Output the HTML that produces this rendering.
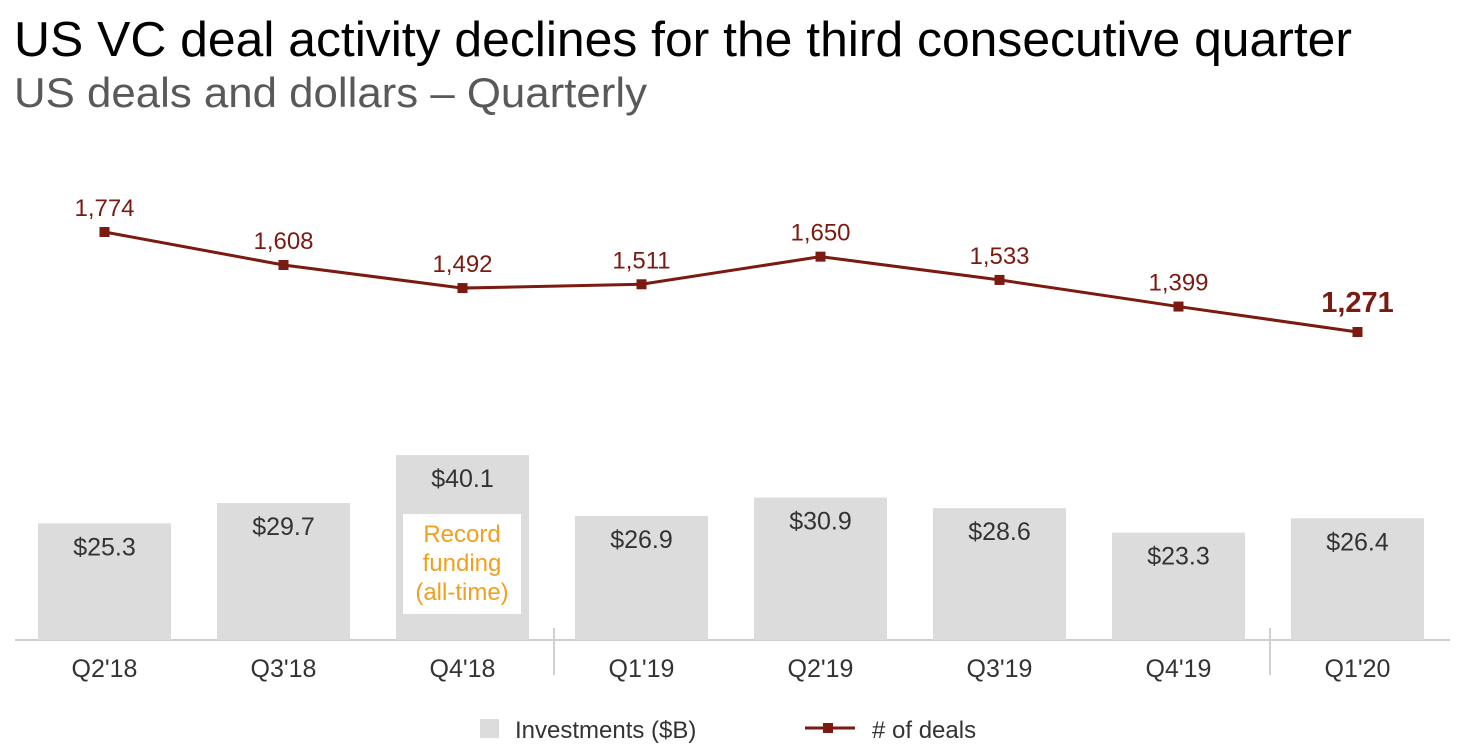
<!DOCTYPE html>
<html><head><meta charset="utf-8"><style>
body{margin:0;background:#fff;font-family:"Liberation Sans",sans-serif;}
#wrap{position:relative;width:1463px;height:755px;overflow:hidden;}
</style></head><body><div id="wrap">
<svg id="chart" width="1463" height="755" style="position:absolute;left:0;top:0">
<text x="14" y="56" font-size="49" fill="#000" textLength="1338" lengthAdjust="spacingAndGlyphs">US VC deal activity declines for the third consecutive quarter</text>
<text x="14" y="107" font-size="42" fill="#595959" textLength="633" lengthAdjust="spacingAndGlyphs">US deals and dollars – Quarterly</text>
<line x1="15" y1="640" x2="1450" y2="640" stroke="#bfbfbf" stroke-width="1.5"/>
<line x1="554" y1="628" x2="554" y2="675" stroke="#d0d0d0" stroke-width="2"/>
<line x1="1270" y1="628" x2="1270" y2="675" stroke="#d0d0d0" stroke-width="2"/>
<g id="bars"></g><g id="line"></g><g id="xlabels"></g>
<rect x="403" y="514" width="118" height="100" fill="#fff"/>
<text x="462" y="542" font-size="24" fill="#f0a020" text-anchor="middle"><tspan x="462">Record</tspan><tspan x="462" dy="29">funding</tspan><tspan x="462" dy="29">(all-time)</tspan></text>
<rect x="480" y="719" width="19" height="19" fill="#dcdcdc"/>
<text x="515" y="738" font-size="24" fill="#333">Investments ($B)</text>
<line x1="805" y1="728" x2="855" y2="728" stroke="#7b1a10" stroke-width="3"/>
<rect x="823" y="723" width="10" height="10" fill="#7b1a10"/>
<text x="872" y="738" font-size="24" fill="#333"># of deals</text>
</svg>
<script>
const categories=["Q2'18","Q3'18","Q4'18","Q1'19","Q2'19","Q3'19","Q4'19","Q1'20"];
const investments=[25.3,29.7,40.1,26.9,30.9,28.6,23.3,26.4];
const deals=[1774,1608,1492,1511,1650,1533,1399,1271];
const NS="http://www.w3.org/2000/svg";
const xC=i=>104.5+i*179;
const yBar=v=>640-v*4.61;
const yDeal=v=>232+(1774-v)*0.1988;
function mk(t,a,p){const e=document.createElementNS(NS,t);for(const k in a)e.setAttribute(k,a[k]);p.appendChild(e);return e;}
const gb=document.getElementById('bars'),gl=document.getElementById('line'),gx=document.getElementById('xlabels');
investments.forEach((v,i)=>{
 const r=mk('rect',{x:xC(i)-66.5,y:yBar(v),width:133,height:640-yBar(v),fill:'#dcdcdc'},gb);
 
 
 const t=mk('text',{x:xC(i),y:yBar(v)+32,'font-size':25,fill:'#333','text-anchor':'middle'},gb);
 t.textContent='$'+v.toFixed(1);
 
 
 const c=mk('text',{x:xC(i),y:677,'font-size':25,fill:'#333','text-anchor':'middle'},gx);
 c.textContent=categories[i];
 
 
});
const pl=mk('polyline',{points:deals.map((d,i)=>xC(i)+','+yDeal(d)).join(' '),fill:'none',stroke:'#7b1a10','stroke-width':3},gl);


deals.forEach((d,i)=>{
 const m=mk('rect',{x:xC(i)-5,y:yDeal(d)-5,width:10,height:10,fill:'#7b1a10'},gl);
 
 
 const last=i===deals.length-1;
 const t=mk('text',{x:xC(i)+(last?0:0),y:yDeal(d)-(last?20:16),'font-size':last?29:24,'font-weight':last?'bold':'normal',fill:'#7b1a10','text-anchor':'middle'},gl);
 t.textContent=d.toLocaleString('en-US');
 
 
});
</script>
</div></body></html>
